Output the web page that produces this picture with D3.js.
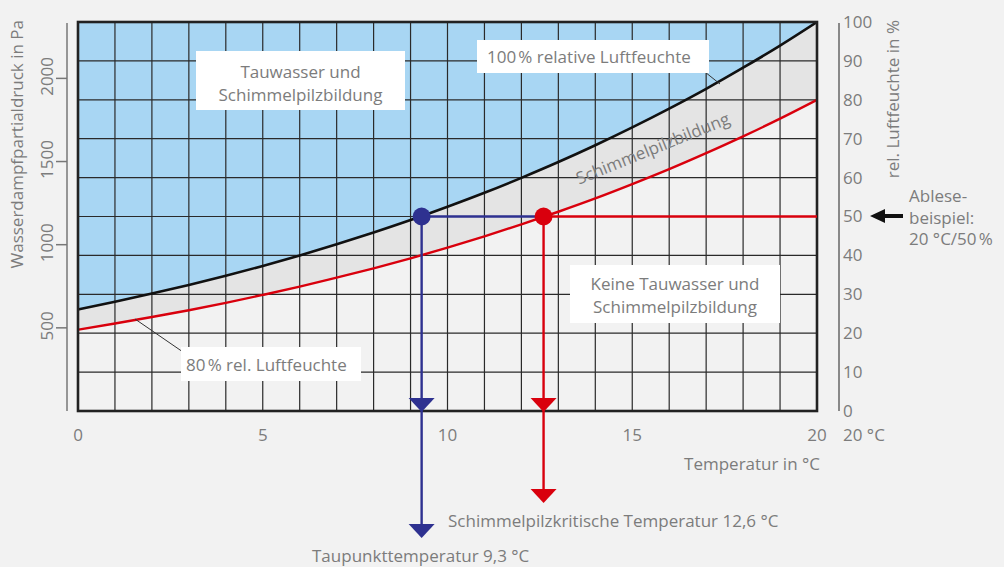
<!DOCTYPE html>
<html>
<head>
<meta charset="utf-8">
<script src="https://cdn.jsdelivr.net/npm/d3@7"></script>
<style>
  html, body { margin: 0; padding: 0; background: #f2f2f2; }
  svg { display: block; font-family: "Open Sans", "Noto Sans", sans-serif; }
  .lbl { fill: #7c7c7c; font-size: 17px; }
</style>
</head>
<body>
<svg id="chart" width="1004" height="567"></svg>
<script>
// temperature steps (°C)
const temps = [0,1,2,3,4,5,6,7,8,9,10,11,12,13,14,15,16,17,18,19,20];
// water vapour pressure at 100 % rel. humidity (Pa)
const satPressure = [611,657,706,758,813,872,935,1002,1073,1148,1228,1312,1402,1497,1598,1705,1818,1937,2064,2197,2339];
// water vapour pressure at 80 % rel. humidity (Pa)
const rh80Pressure = [489,526,565,606,650,698,748,802,858,918,982,1050,1122,1198,1278,1364,1454,1550,1651,1758,1871];

const paTicks = [500,1000,1500,2000];
const rhTicks = [0,10,20,30,40,50,60,70,80,90,100];
const tempTicks = [0,5,10,15,20];

// reading example: 20 °C / 50 %
const exampleRH = 50;
const dewPointT = 9.3;
const moldT = 12.6;

const svg = d3.select('#chart');
const pLeft = 78, pRight = 817, pTop = 22, pBottom = 411;
const nsp = '\u202F';

const x = d3.scaleLinear().domain([0,20]).range([pLeft,pRight]);
const yPa = d3.scaleLinear().domain([0,2339]).range([pBottom,pTop]);
const yRH = d3.scaleLinear().domain([0,100]).range([pBottom,pTop]);

const sat = temps.map((t,i) => ({t: t, p: satPressure[i], p80: rh80Pressure[i]}));

svg.append('defs').append('clipPath').attr('id','plot')
  .append('rect').attr('x',pLeft).attr('y',pTop).attr('width',pRight-pLeft).attr('height',pBottom-pTop);

const plot = svg.append('g').attr('clip-path','url(#plot)');

// regions
plot.append('path').datum(sat)
  .attr('d', d3.area().x(d => x(d.t)).y0(pTop).y1(d => yPa(d.p)).curve(d3.curveMonotoneX))
  .attr('fill','#a8d6f3');
plot.append('path').datum(sat)
  .attr('d', d3.area().x(d => x(d.t)).y0(d => yPa(d.p)).y1(d => yPa(d.p80)).curve(d3.curveMonotoneX))
  .attr('fill','#e4e4e4');

// grid
plot.selectAll('.vg').data(d3.range(1,20)).enter().append('line')
  .attr('x1', d => x(d)).attr('x2', d => x(d)).attr('y1', pTop).attr('y2', pBottom)
  .attr('stroke','#2a2a2a').attr('stroke-width',1.2);
plot.selectAll('.hg').data(rhTicks.slice(1,-1)).enter().append('line')
  .attr('x1', pLeft).attr('x2', pRight).attr('y1', d => yRH(d)).attr('y2', d => yRH(d))
  .attr('stroke','#2a2a2a').attr('stroke-width',1.2);

// curves
const line = (key) => d3.line().x(d => x(d.t)).y(d => yPa(d[key])).curve(d3.curveMonotoneX);
plot.append('path').datum(sat).attr('d', line('p')).attr('fill','none')
  .attr('stroke','#111').attr('stroke-width',2.6);
plot.append('path').datum(sat).attr('d', line('p80')).attr('fill','none')
  .attr('stroke','#d9000d').attr('stroke-width',2.4);

// frame
svg.append('rect').attr('x',pLeft).attr('y',pTop).attr('width',pRight-pLeft).attr('height',pBottom-pTop)
  .attr('fill','none').attr('stroke','#222').attr('stroke-width',2.6);

// left axis
const leftAxis = svg.append('g');
leftAxis.append('line').attr('x1',67).attr('x2',67).attr('y1',pTop+1).attr('y2',pBottom)
  .attr('stroke','#777').attr('stroke-width',1.5);
leftAxis.selectAll('.lt').data(paTicks).enter().append('line')
  .attr('x1',56).attr('x2',67).attr('y1',d => yPa(d)).attr('y2',d => yPa(d))
  .attr('stroke','#777').attr('stroke-width',1.5);
leftAxis.selectAll('.ll').data(paTicks).enter().append('text')
  .attr('class','lbl').attr('text-anchor','middle')
  .attr('transform', d => `translate(53,${yPa(d) - 2}) rotate(-90)`)
  .text(d => d);
svg.append('text').attr('class','lbl').attr('text-anchor','end')
  .attr('transform','translate(23,20) rotate(-90)')
  .text('Wasserdampfpartialdruck in Pa');

// right axis
svg.append('line').attr('x1',839).attr('x2',839).attr('y1',pTop+1).attr('y2',pBottom)
  .attr('stroke','#666').attr('stroke-width',1.5);
svg.selectAll('.rl').data(rhTicks).enter().append('text')
  .attr('class','lbl').attr('x',843).attr('y', d => yRH(d)).attr('dy','0.35em')
  .text(d => d);
svg.append('text').attr('class','lbl').attr('text-anchor','end')
  .attr('transform','translate(899,20) rotate(-90)')
  .text('rel. Luftfeuchte in %');

// bottom axis labels
svg.selectAll('.bl').data(tempTicks).enter().append('text')
  .attr('class','lbl').attr('text-anchor','middle')
  .attr('x', d => x(d)).attr('y',441).text(d => d);
svg.append('text').attr('class','lbl').attr('x',843).attr('y',441).text('20 °C');
svg.append('text').attr('class','lbl').attr('text-anchor','end').attr('x',820).attr('y',470)
  .text('Temperatur in °C');

// boxed labels
function box(x0, y0, w, h) {
  svg.append('rect').attr('x',x0).attr('y',y0).attr('width',w).attr('height',h).attr('fill','#fff');
}
box(196,51,209,59);
svg.append('text').attr('class','lbl').attr('text-anchor','middle').attr('x',300.5).attr('y',78).text('Tauwasser und');
svg.append('text').attr('class','lbl').attr('text-anchor','middle').attr('x',300.5).attr('y',101).text('Schimmelpilzbildung');

svg.append('line').attr('x1',705).attr('y1',72).attr('x2',720).attr('y2',84).attr('stroke','#333').attr('stroke-width',1);
box(477,40,232,33);
svg.append('text').attr('class','lbl').attr('x',487).attr('y',63).text(`100${nsp}% relative Luftfeuchte`);

box(570,265,210,58);
svg.append('text').attr('class','lbl').attr('text-anchor','middle').attr('x',675).attr('y',290).text('Keine Tauwasser und');
svg.append('text').attr('class','lbl').attr('text-anchor','middle').attr('x',675).attr('y',313).text('Schimmelpilzbildung');

svg.append('line').attr('x1',135).attr('y1',319).attr('x2',183).attr('y2',352).attr('stroke','#333').attr('stroke-width',1);
box(181,347,180,34);
svg.append('text').attr('class','lbl').attr('x',186).attr('y',371).text(`80${nsp}% rel. Luftfeuchte`);

svg.append('text').attr('class','lbl').attr('fill','#888').attr('text-anchor','middle')
  .attr('transform','translate(655,154) rotate(-22)')
  .text('Schimmelpilzbildung');

// reading example
const yEx = yRH(exampleRH);
const blue = '#2e3190', red = '#d9000d';
function arrowHead(cx, tip, col) {
  svg.append('path').attr('d', `M${cx-13},${tip-14}L${cx+13},${tip-14}L${cx},${tip}Z`).attr('fill',col);
}
svg.append('line').attr('x1',x(dewPointT)).attr('x2',x(moldT)).attr('y1',yEx).attr('y2',yEx)
  .attr('stroke',blue).attr('stroke-width',2.4);
svg.append('line').attr('x1',x(moldT)).attr('x2',pRight).attr('y1',yEx).attr('y2',yEx)
  .attr('stroke',red).attr('stroke-width',2.4);
svg.append('line').attr('x1',x(dewPointT)).attr('x2',x(dewPointT)).attr('y1',yEx).attr('y2',530)
  .attr('stroke',blue).attr('stroke-width',2.4);
svg.append('line').attr('x1',x(moldT)).attr('x2',x(moldT)).attr('y1',yEx).attr('y2',495)
  .attr('stroke',red).attr('stroke-width',2.4);
arrowHead(x(dewPointT), 412, blue);
arrowHead(x(dewPointT), 538, blue);
arrowHead(x(moldT), 412, red);
arrowHead(x(moldT), 503, red);
svg.append('circle').attr('cx',x(dewPointT)).attr('cy',yEx).attr('r',9).attr('fill',blue);
svg.append('circle').attr('cx',x(moldT)).attr('cy',yEx).attr('r',9).attr('fill',red);

svg.append('text').attr('class','lbl').attr('x',448).attr('y',527).text('Schimmelpilzkritische Temperatur 12,6 °C');
svg.append('text').attr('class','lbl').attr('x',312).attr('y',562).text('Taupunkttemperatur 9,3 °C');

// Ablesebeispiel
svg.append('path').attr('d','M870,216L885,209L885,214L903,214L903,218L885,218L885,223Z').attr('fill','#111');
svg.append('text').attr('class','lbl').attr('x',909).attr('y',202).text('Ablese-');
svg.append('text').attr('class','lbl').attr('x',909).attr('y',224).text('beispiel:');
svg.append('text').attr('class','lbl').attr('x',909).attr('y',245).text(`20 °C/50${nsp}%`);
</script>
</body>
</html>
